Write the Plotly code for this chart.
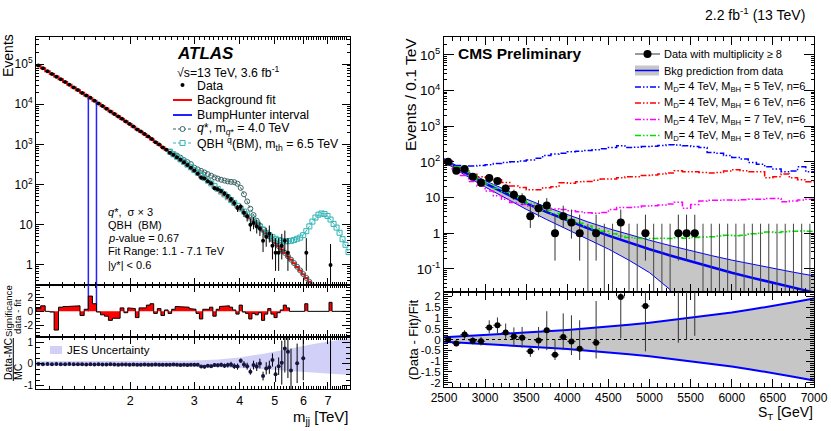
import math
import plotly.graph_objects as go

W, H = 831, 431
FONT = "Liberation Sans, Arial, Helvetica, sans-serif"


def X(p):
    return p / W


def Y(p):
    return 1 - p / H


# ====================== ATLAS (left) ======================
atlas_edges_gev = [
    1100, 1133, 1166, 1200, 1234, 1269, 1305, 1341, 1378, 1416,
    1454, 1493, 1533, 1573, 1614, 1656, 1698, 1741, 1785, 1830,
    1875, 1921, 1968, 2016, 2065, 2114, 2164, 2215, 2267, 2320,
    2374, 2429, 2485, 2542, 2600, 2659, 2719, 2780, 2842, 2905,
    2969, 3034, 3100, 3167, 3235, 3305, 3376, 3448, 3521, 3596,
    3672, 3749, 3827, 3907, 3988, 4070, 4154, 4239, 4326, 4414,
    4504, 4595, 4688, 4782, 4878, 4975, 5074, 5175, 5277, 5381,
    5487, 5595, 5705, 5817, 5931, 6047, 6165, 6285, 6407, 6531,
    6658, 6787, 6918, 7052, 7188, 7326, 7467, 7610, 7756, 7904, 8055]

# background fit (events per bin), bins 1..84
atlas_fit = [
    92000, 78400, 66800, 57100, 48900, 41700, 35700, 30600, 26200, 22500,
    19300, 16600, 14200, 12200, 10500, 9080, 7820, 6740, 5800, 5000,
    4320, 3730, 3210, 2770, 2390, 2070, 1790, 1540, 1330, 1150,
    989, 852, 733, 632, 544, 468, 403, 347, 298, 256,
    220, 189, 162, 139, 119, 102, 87.1, 74.5, 63.6, 54.2,
    46.2, 39.3, 33.4, 28.3, 24.0, 20.4, 17.2, 14.5, 12.2, 10.3,
    8.64, 7.24, 6.06, 5.06, 4.22, 3.51, 2.91, 2.40, 1.99, 1.63,
    1.34, 1.10, 0.893, 0.724, 0.586, 0.472, 0.379, 0.303, 0.240, 0.190,
    0.151, 0.117, 0.091, 0.071]

# data (events per bin), bins 1..84
atlas_data = [
    92121, 78624, 66800, 57076, 48303, 41822, 35832, 30722, 26330, 22620,
    19217, 16639, 14462, 12321, 10490, 9032, 7758, 6633, 5724, 4929,
    4353, 3718, 3238, 2791, 2346, 2093, 1811, 1575, 1370, 1140,
    1002, 834, 738, 624, 551, 483, 417, 358, 308, 262,
    224, 185, 148, 143, 122, 108, 81, 77, 69, 60,
    52, 43, 35, 26, 28, 20, 16, 10, 11, 9,
    8, 4, 5, 6, 3, 2, 2, 3, 4, 2,
    0, 0, 0, 0, 0, 2, 0, 0, 0, 0,
    0, 0, 0, 1]

# significance (data - fit), bins 1..90
atlas_signif = [
    0.4, 0.8, 0.0, -0.1, -2.7, 0.6, 0.7, 0.7, 0.8, 0.8,
    -0.6, 0.3, 2.2, 1.1, -0.1, -0.5, -0.7, -1.3, -1.0, -1.0,
    0.5, -0.2, 0.5, 0.4, -0.9, 0.5, 0.5, 0.9, 1.1, -0.3,
    0.4, -0.6, 0.2, -0.3, 0.3, 0.7, 0.7, 0.6, 0.6, 0.4,
    0.3, -0.3, -1.1, 0.3, 0.3, 0.6, -0.7, 0.3, 0.7, 0.8,
    0.8, 0.6, 0.2, -0.4, 0.9, -0.1, -0.3, -1.1, -0.3, -0.5,
    -0.2, -1.3, -0.4, 0.4, -0.4, -0.9, -0.2, 0.2, 0.9, 0.5,
    0, 0, 0, 0, 0, 1.1, 0, 0, 0, 0,
    0, 0, 0, 1.3, 0, 0, 0, 0, 0, 0]

# q* (sigma x 3) + background, bins 34..79
qstar_first_bin = 34
qstar_counts = [
    650, 565, 525, 468, 407, 363, 324, 263, 240, 219,
    200, 182, 166, 151, 141, 132, 126, 120, 117, 115,
    105, 83, 57.5, 38, 25, 17.4, 12.6, 9.5, 7.6, 6.2,
    5.1, 4.25, 3.53, 2.93, 2.42, 2.0, 1.64, 1.35, 1.11, 0.90,
    0.73, 0.59, 0.475, 0.38, 0.305, 0.242]

# QBH (BM) + background, bins 34..90
qbh_first_bin = 34
qbh_counts = [
    664, 571, 491, 423, 364, 313, 269, 231, 198, 170,
    146, 125, 107, 91.5, 78.2, 66.8, 56.9, 48.5, 41.3, 35.1,
    29.7, 25.2, 21.4, 18.1, 15.2, 12.8, 10.8, 9.07, 7.60, 6.31,
    5.50, 4.90, 4.47, 4.17, 3.98, 3.89, 3.89, 3.98, 4.17, 4.47,
    4.79, 5.50, 6.92, 9.12, 12.0, 15.1, 17.8, 19.1, 18.6, 16.6,
    13.5, 10.5, 8.51, 6.31, 4.37, 3.16, 2.09]

# (Data-MC)/MC, bins 1..84
atlas_dmc = [
    0.0, -0.01, 0.0, -0.01, 0.0, -0.01, -0.01, 0.0, -0.01, -0.01,
    -0.01, -0.02, -0.01, -0.02, -0.01, -0.02, -0.02, -0.01, -0.02, -0.03,
    -0.02, -0.02, -0.03, -0.02, -0.03, -0.03, -0.02, -0.03, -0.03, -0.02,
    -0.03, -0.03, -0.04, -0.03, -0.02, -0.03, -0.05, -0.04, -0.05, -0.03,
    -0.04, -0.03, -0.12, -0.13, -0.08, -0.10, -0.05, -0.06, -0.04, -0.08,
    -0.05, -0.02, -0.10, -0.12, 0.15, -0.02, -0.10, -0.35, -0.05, -0.12,
    0.02, -0.55, -0.20, -0.15, 0.18, -0.47, -0.10, 0.06, 0.71, 0.56,
    -0.30, None, 0.03, None, 0.26, None, None, None, None, None,
    None, None, None, 1.4]
atlas_dmc_err = [
    0.004, 0.004, 0.005, 0.005, 0.005, 0.005, 0.006, 0.006, 0.006, 0.007,
    0.007, 0.008, 0.008, 0.009, 0.009, 0.01, 0.01, 0.011, 0.012, 0.013,
    0.014, 0.015, 0.016, 0.017, 0.018, 0.019, 0.02, 0.022, 0.023, 0.025,
    0.027, 0.03, 0.032, 0.034, 0.036, 0.04, 0.042, 0.045, 0.05, 0.053,
    0.057, 0.06, 0.065, 0.07, 0.075, 0.08, 0.085, 0.09, 0.095, 0.1,
    0.11, 0.12, 0.13, 0.14, 0.1, 0.15, 0.16, 0.14, 0.2, 0.2,
    0.22, 0.2, 0.28, 0.3, 0.3, 0.35, 0.4, 1.0, 1.1, 1.2,
    1.0, 0, 0.9, 0, 1.0, 0, 0, 0, 0, 0,
    0, 0, 0, 3.0]

# JES uncertainty band
jes_mass = [1.1, 2.0, 2.9, 3.5, 4.0, 4.7, 5.5, 6.5, 8.055]
jes_up = [0.12, 0.13, 0.15, 0.20, 0.30, 0.48, 0.70, 0.93, 1.17]
jes_dn = [-0.08, -0.09, -0.12, -0.15, -0.18, -0.24, -0.32, -0.40, -0.50]

bump_lo_gev, bump_hi_gev = 1533, 1614

# Poisson (68%) error table for small counts
poisson_small = {1: (0.83, 2.30), 2: (1.29, 2.64), 3: (1.63, 2.92), 4: (1.91, 3.16),
                 5: (2.16, 3.38), 6: (2.38, 3.58), 8: (2.77, 3.94), 9: (2.94, 4.11),
                 10: (3.11, 4.27), 11: (3.26, 4.42)}

# ====================== CMS (right) ======================
cms_counts = [100, 56, 63, 38, 26, 35, 29, 18, 12, 9,
              3, 5, 6, 1, 3, 2, 1, 0, 1, 0,
              0, 2, 0, 0, 1, 0, 0, 0, 1, 1,
              1, 0, 0, 0, 0, 0, 0, 0, 0, 0,
              0, 0, 0, 0, 0]
cms_err_up = [11.0, 8.5, 9.0, 7.2, 6.1, 6.9, 6.4, 5.3, 4.6, 4.1,
              2.9, 3.4, 3.6, 2.3, 2.9, 2.6, 2.3, 1.84, 2.3, 1.84,
              1.84, 2.6, 1.84, 1.84, 2.3, 1.84, 1.84, 1.84, 2.3, 2.3,
              2.3, 1.84, 1.84, 1.84, 1.84, 1.84, 1.84, 1.84, 1.84, 1.84,
              1.84, 1.84, 1.84, 1.84, 1.84]
cms_err_dn = [10.0, 7.5, 7.9, 6.1, 5.1, 5.9, 5.4, 4.2, 3.5, 2.9,
              1.6, 2.2, 2.4, 0.83, 1.6, 1.3, 0.83, 0, 0.83, 0,
              0, 1.3, 0, 0, 0.83, 0, 0, 0, 0.83, 0.83,
              0.83, 0, 0, 0, 0, 0, 0, 0, 0, 0,
              0, 0, 0, 0, 0]

cms_fit_st = [2500, 2750, 3000, 3250, 3500, 3750, 4000, 4250, 4500, 4750,
              5000, 5250, 5500, 5750, 6000, 6250, 6500, 6750, 7000]
cms_fit = [112, 50.8, 24.7, 12.7, 6.86, 3.87, 2.27, 1.37, 0.852, 0.544,
           0.355, 0.237, 0.161, 0.111, 0.078, 0.0558, 0.0403, 0.0295, 0.0218]
cms_unc = [0.10, 0.15, 0.20, 0.26, 0.32, 0.38, 0.44, 0.51, 0.58, 0.68,
           0.78, 0.89, 1.00, 1.12, 1.25, 1.40, 1.55, 1.72, 1.90]

# signal + background (log10 events / 0.1 TeV), 100 GeV bins 2500-7000
mbh5_log10 = [2.00, 1.90, 1.86, 1.88, 1.90, 1.92, 1.95, 1.98, 2.00, 2.02,
              2.05, 2.10, 2.18, 2.22, 2.24, 2.28, 2.30, 2.32, 2.34, 2.37,
              2.40, 2.45, 2.40, 2.41, 2.43, 2.44, 2.46, 2.48, 2.47, 2.45,
              2.43, 2.40, 2.26, 2.24, 2.18, 2.12, 2.08, 1.98, 1.93, 1.86,
              1.80, 1.72, 1.74, 1.86, 1.72]
mbh6_log10 = [2.02, 1.85, 1.75, 1.65, 1.58, 1.52, 1.50, 1.42, 1.32, 1.28,
              1.22, 1.22, 1.27, 1.30, 1.41, 1.40, 1.44, 1.45, 1.48, 1.52,
              1.52, 1.55, 1.58, 1.58, 1.62, 1.63, 1.66, 1.69, 1.75, 1.72,
              1.72, 1.70, 1.69, 1.70, 1.74, 1.78, 1.75, 1.72, 1.72, 1.55,
              1.58, 1.66, 1.55, 1.50, 1.44]
mbh7_log10 = [2.02, 1.80, 1.62, 1.45, 1.32, 1.18, 1.05, 0.95, 0.86, 0.80,
              0.76, 0.72, 0.70, 0.68, 0.66, 0.63, 0.60, 0.57, 0.56, 0.58,
              0.66, 0.72, 0.72, 0.73, 0.76, 0.77, 0.79, 0.82, 0.87, 0.70,
              0.80, 0.90, 0.92, 0.92, 0.93, 0.92, 0.94, 0.95, 0.95, 0.97,
              0.97, 0.88, 0.90, 0.93, 0.95]
mbh8_log10 = [2.00, 1.86, 1.74, 1.62, 1.50, 1.38, 1.26, 1.15, 1.04, 0.93,
              0.83, 0.73, 0.64, 0.55, 0.46, 0.37, 0.28, 0.20, 0.12, 0.05,
              -0.02, -0.08, -0.12, -0.14, -0.15, -0.15, -0.14, -0.15, -0.13, -0.14,
              -0.12, -0.11, -0.10, -0.08, -0.06, -0.07, -0.06, -0.02, 0.00, 0.03,
              0.02, 0.04, 0.05, 0.06, 0.05]

# (Data - Fit)/Fit
cms_ratio = [0.0, -0.18, 0.23, -0.06, -0.08, 0.55, 0.66, 0.32, 0.14, 0.08,
             -0.54, -0.05, 0.43, -0.71, 0.11, -0.09, -0.43, None, -0.15, None,
             None, 1.97, None, None, 1.55, None, None, None, 3.9, 4.2,
             4.6]
cms_ratio_up = [0.1, 0.13, 0.2, 0.17, 0.2, 0.34, 0.36, 0.42, 0.42, 0.5,
                0.2, 0.63, 0.88, 0.71, 1.1, 1.21, 1.32, 0, 1.93, 0,
                0, 6.9, 0, 0, 5.9, 0, 0, 0, 10, 10,
                10]
cms_ratio_dn = [0.1, 0.13, 0.2, 0.17, 0.2, 0.27, 0.38, 0.32, 0.42, 0.46,
                0.26, 0.44, 0.92, 0.24, 0.6, 0.63, 0.52, 0, 0.73, 0,
                0, 1.92, 0, 0, 2.1, 0, 0, 0, 4.05, 4.2,
                4.43]

# ==========================================================
fig = go.Figure()

edges = [e / 1000 for e in atlas_edges_gev]
centers = [(edges[i] + edges[i + 1]) / 2 for i in range(len(edges) - 1)]


def steps(ed, vals):
    xs, ys = [], []
    for i, v in enumerate(vals):
        xs += [ed[i], ed[i + 1]]
        ys += [v, v]
    return xs, ys


# --- ATLAS main panel ---
fx, fy = steps(edges, atlas_fit)
fig.add_trace(go.Scatter(x=fx, y=fy, mode='lines', line=dict(color='#ff0000', width=2),
                         xaxis='x', yaxis='y', hoverinfo='skip'))

qs_x = centers[qstar_first_bin - 1: qstar_first_bin - 1 + len(qstar_counts)]
fig.add_trace(go.Scatter(x=qs_x, y=qstar_counts, mode='lines+markers',
                         line=dict(color='#3b6363', width=1, dash='3px,2px'),
                         marker=dict(symbol='circle-open', size=5, color='#3b6363', line=dict(width=1)),
                         xaxis='x', yaxis='y'))
qb_x = centers[qbh_first_bin - 1: qbh_first_bin - 1 + len(qbh_counts)]
fig.add_trace(go.Scatter(x=qb_x, y=qbh_counts, mode='lines+markers',
                         line=dict(color='#33b5b5', width=1, dash='3px,2px'),
                         marker=dict(symbol='square-open', size=5, color='#33b5b5', line=dict(width=1)),
                         xaxis='x', yaxis='y'))

i_lo = atlas_edges_gev.index(bump_lo_gev)
i_hi = atlas_edges_gev.index(bump_hi_gev)
for xv, top in [(bump_lo_gev / 1000, atlas_data[i_lo]), (bump_hi_gev / 1000, atlas_data[i_hi - 1])]:
    fig.add_trace(go.Scatter(x=[xv, xv], y=[1e-3, top], mode='lines',
                             line=dict(color='#2222ff', width=1.5), xaxis='x', yaxis='y'))
    fig.add_trace(go.Scatter(x=[xv, xv], y=[0, 10], mode='lines',
                             line=dict(color='#2222ff', width=1.5), xaxis='x2', yaxis='y2'))

d_x, d_y, d_up, d_dn = [], [], [], []
for i, n in enumerate(atlas_data):
    if n <= 0:
        continue
    d_x.append(centers[i])
    d_y.append(n)
    if n in poisson_small:
        dn, up = poisson_small[n]
    else:
        dn = up = n ** 0.5
    d_up.append(up)
    d_dn.append(dn)
fig.add_trace(go.Scatter(x=d_x, y=d_y, mode='markers',
                         marker=dict(color='black', size=4),
                         error_y=dict(type='data', array=d_up, arrayminus=d_dn, symmetric=False,
                                      width=0, thickness=1, color='black'),
                         xaxis='x', yaxis='y'))

# --- ATLAS significance panel ---
sx, sy = steps(edges, atlas_signif)
fig.add_trace(go.Scatter(x=[edges[0]] + sx + [edges[-1]], y=[0] + sy + [0], mode='lines',
                         fill='tozeroy', fillcolor='#ff0000',
                         line=dict(color='black', width=1), xaxis='x2', yaxis='y2'))

# --- ATLAS (Data-MC)/MC panel ---
fig.add_trace(go.Scatter(x=jes_mass, y=jes_up, mode='lines', line=dict(width=0),
                         xaxis='x3', yaxis='y3', hoverinfo='skip'))
fig.add_trace(go.Scatter(x=jes_mass, y=jes_dn, mode='lines', line=dict(width=0),
                         fill='tonexty', fillcolor='rgba(150,150,240,0.45)',
                         xaxis='x3', yaxis='y3', hoverinfo='skip'))
r_x = [centers[i] for i in range(len(atlas_dmc)) if atlas_dmc[i] is not None]
r_y = [v for v in atlas_dmc if v is not None]
r_e = [atlas_dmc_err[i] for i in range(len(atlas_dmc)) if atlas_dmc[i] is not None]
fig.add_trace(go.Scatter(x=r_x, y=r_y, mode='markers',
                         marker=dict(color='#15153f', size=4),
                         error_y=dict(type='data', array=r_e, width=0, thickness=1, color='black'),
                         xaxis='x3', yaxis='y3'))

# --- CMS main panel ---
cms_edges = [2500 + 100 * i for i in range(len(cms_counts) + 1)]
cms_x = [2550 + 100 * i for i in range(len(cms_counts))]
band_up = [f * (1 + u) for f, u in zip(cms_fit, cms_unc)]
band_dn = [max(f * (1 - u), 1e-4) for f, u in zip(cms_fit, cms_unc)]
fig.add_trace(go.Scatter(x=cms_fit_st, y=band_up, mode='lines', line=dict(color='#0000ff', width=1),
                         xaxis='x4', yaxis='y4'))
fig.add_trace(go.Scatter(x=cms_fit_st, y=band_dn, mode='lines', line=dict(color='#0000ff', width=1),
                         fill='tonexty', fillcolor='#c6c6c6', xaxis='x4', yaxis='y4'))
fig.add_trace(go.Scatter(x=cms_fit_st, y=cms_fit, mode='lines', line=dict(color='#0000ff', width=2.5),
                         xaxis='x4', yaxis='y4'))

DASHDOT = '6px,2px,1.5px,2px,1.5px,2px'
for vals, col in [(mbh5_log10, '#0000ff'), (mbh6_log10, '#ff0000'),
                  (mbh7_log10, '#ff00ff'), (mbh8_log10, '#00e000')]:
    yv = [10 ** v for v in vals]
    fig.add_trace(go.Scatter(x=cms_edges, y=yv + [yv[-1]], mode='lines', line_shape='hv',
                             line=dict(color=col, width=1.5, dash=DASHDOT),
                             xaxis='x4', yaxis='y4'))

zx, zy = [], []
for i, n in enumerate(cms_counts):
    if n == 0:
        zx += [cms_x[i], cms_x[i], None]
        zy += [1e-3, cms_err_up[i], None]
fig.add_trace(go.Scatter(x=zx, y=zy, mode='lines', line=dict(color='#444444', width=1),
                         xaxis='x4', yaxis='y4'))
nz = [i for i, n in enumerate(cms_counts) if n > 0]
fig.add_trace(go.Scatter(x=[cms_x[i] for i in nz], y=[cms_counts[i] for i in nz], mode='markers',
                         marker=dict(color='black', size=8),
                         error_y=dict(type='data', array=[cms_err_up[i] for i in nz],
                                      arrayminus=[cms_err_dn[i] for i in nz], symmetric=False,
                                      width=0, thickness=1, color='#333333'),
                         error_x=dict(type='constant', value=50, width=0, thickness=1, color='#333333'),
                         xaxis='x4', yaxis='y4'))

# --- CMS ratio panel ---
fig.add_trace(go.Scatter(x=cms_fit_st, y=cms_unc, mode='lines', line=dict(color='#0000ff', width=2),
                         xaxis='x5', yaxis='y5'))
fig.add_trace(go.Scatter(x=cms_fit_st, y=[-u for u in cms_unc], mode='lines',
                         line=dict(color='#0000ff', width=2), fill='tonexty', fillcolor='#c6c6c6',
                         xaxis='x5', yaxis='y5'))
fig.add_trace(go.Scatter(x=[2500, 7000], y=[0, 0], mode='lines',
                         line=dict(color='black', width=1, dash='dot'), xaxis='x5', yaxis='y5'))
rr = [i for i, v in enumerate(cms_ratio) if v is not None]
fig.add_trace(go.Scatter(x=[cms_x[i] for i in rr], y=[cms_ratio[i] for i in rr], mode='markers',
                         marker=dict(color='black', size=6),
                         error_y=dict(type='data', array=[cms_ratio_up[i] for i in rr],
                                      arrayminus=[cms_ratio_dn[i] for i in rr], symmetric=False,
                                      width=0, thickness=1, color='#333333'),
                         error_x=dict(type='constant', value=50, width=0, thickness=1, color='#333333'),
                         xaxis='x5', yaxis='y5'))


# ==================== axes ====================
def axis(**kw):
    d = dict(showline=True, linecolor='black', linewidth=1, mirror='ticks', ticks='inside',
             ticklen=6, tickwidth=1, tickcolor='black', showgrid=False, zeroline=False,
             automargin=False,
             tickfont=dict(family=FONT, size=12, color='black'))
    d.update(kw)
    return d


lx_range = [math.log10(edges[0]), math.log10(edges[-1])]
lx_minor = [k / 10 for k in range(11, 81) if k % 10 != 0]
lx_major = [2, 3, 4, 5, 6, 7]
log_minor = [k * 10 ** d for d in range(-2, 6) for k in range(2, 10)]
minor_log = dict(ticks='inside', ticklen=3, tickcolor='black', tickvals=log_minor)

LXD = [X(36), X(350)]
RXD = [X(444), X(814)]

layout_axes = dict(
    xaxis=axis(domain=LXD, type='log', range=lx_range, anchor='y', tickvals=lx_major,
               showticklabels=False, ticklen=7,
               minor=dict(ticks='inside', ticklen=3, tickcolor='black', tickvals=lx_minor)),
    yaxis=axis(domain=[Y(285), Y(37)], type='log', range=[-0.5, 5.675], anchor='x',
               tickvals=[1, 10, 1e2, 1e3, 1e4, 1e5],
               ticktext=['1', '10', '10<sup>2</sup>', '10<sup>3</sup>', '10<sup>4</sup>', '10<sup>5</sup>'],
               tickfont=dict(family=FONT, size=12, color='black'), ticklen=8, minor=minor_log),
    xaxis2=axis(domain=LXD, type='log', range=lx_range, anchor='y2', tickvals=lx_major,
                showticklabels=False, ticklen=7,
                minor=dict(ticks='inside', ticklen=3, tickcolor='black', tickvals=lx_minor)),
    yaxis2=axis(domain=[Y(337), Y(285)], range=[-3.7, 3.8], anchor='x2',
                tickvals=[-2, 0, 2], ticktext=['-2', '0', '2'], ticklen=8,
                tickfont=dict(family=FONT, size=10, color='black'),
                minor=dict(ticks='inside', ticklen=4, tickcolor='black',
                           tickvals=[-3.5, -3, -2.5, -1.5, -1, -0.5, 0.5, 1, 1.5, 2.5, 3, 3.5])),
    xaxis3=axis(domain=LXD, type='log', range=lx_range, anchor='y3', tickvals=lx_major,
                ticktext=[str(v) for v in lx_major], ticklen=7,
                tickfont=dict(family=FONT, size=12.5, color='black'),
                minor=dict(ticks='inside', ticklen=3, tickcolor='black', tickvals=lx_minor)),
    yaxis3=axis(domain=[Y(389), Y(337)], range=[-1.14, 1.23], anchor='x3',
                tickvals=[-1, 0, 1], ticktext=['-1', '0', '1'], ticklen=8,
                tickfont=dict(family=FONT, size=10, color='black'),
                minor=dict(ticks='inside', ticklen=4, tickcolor='black',
                           tickvals=[-0.75, -0.5, -0.25, 0.25, 0.5, 0.75])),
    xaxis4=axis(domain=RXD, range=[2500, 7000], anchor='y4',
                tickvals=list(range(2500, 7001, 500)), showticklabels=False, ticklen=8,
                minor=dict(ticks='inside', ticklen=4, tickcolor='black', dtick=100)),
    yaxis4=axis(domain=[Y(292), Y(37)], type='log', range=[-1.65, 5.5], anchor='x4',
                tickvals=[0.1, 1, 10, 1e2, 1e3, 1e4, 1e5],
                ticktext=['10<sup>-1</sup>', '1', '10', '10<sup>2</sup>', '10<sup>3</sup>',
                          '10<sup>4</sup>', '10<sup>5</sup>'],
                tickfont=dict(family=FONT, size=13.5, color='black'), ticklen=10, minor=minor_log),
    xaxis5=axis(domain=RXD, range=[2500, 7000], anchor='y5',
                tickvals=list(range(2500, 7001, 500)),
                ticktext=[str(v) for v in range(2500, 7001, 500)], ticklen=8,
                tickfont=dict(family=FONT, size=12, color='black'),
                minor=dict(ticks='inside', ticklen=4, tickcolor='black', dtick=100)),
    yaxis5=axis(domain=[Y(387), Y(292)], range=[-2.2, 2.2], anchor='x5',
                tickvals=[-2, -1.5, -1, -0.5, 0, 0.5, 1, 1.5, 2],
                ticktext=['-2', '-1.5', '-1', '-0.5', '0', '0.5', '1', '1.5', '2'], ticklen=8,
                tickfont=dict(family=FONT, size=11.5, color='black'),
                minor=dict(ticks='inside', ticklen=4, tickcolor='black', dtick=0.1)),
)

# ==================== texts & legends ====================
ann, shp = [], []


def txt(x, y, s, size=12, xa='left', ya='middle', angle=0, bold=False):
    if bold:
        s = '<b>' + s + '</b>'
    ann.append(dict(x=X(x), y=Y(y), xref='paper', yref='paper', text=s, showarrow=False,
                    xanchor=xa, yanchor=ya, textangle=angle, borderpad=0,
                    font=dict(family=FONT, size=size, color='black')))


def hline(x0, x1, y, color, width=1.5, dash='solid'):
    shp.append(dict(type='line', xref='paper', yref='paper', x0=X(x0), x1=X(x1), y0=Y(y), y1=Y(y),
                    line=dict(color=color, width=width, dash=dash)))


# ATLAS labels
txt(176, 53, '<b><i>ATLAS</i></b>', size=17)
txt(176, 72, '√s=13 TeV, 3.6 fb<sup>-1</sup>', size=12.3)
txt(196, 86, 'Data', size=12.3)
txt(196, 100, 'Background fit', size=12.3)
txt(196, 115, 'BumpHunter interval', size=12.3)
txt(196, 129, '<i>q</i>*, m<sub><i>q</i>*</sub> = 4.0 TeV', size=12.3)
txt(196, 144, 'QBH <sup>q</sup>(BM), m<sub>th</sub> = 6.5 TeV', size=12.3)
shp.append(dict(type='circle', xref='paper', yref='paper', x0=X(180.5), x1=X(184.5),
                y0=Y(87), y1=Y(83), fillcolor='black', line=dict(color='black', width=0)))
hline(173, 192, 100, '#ff0000', 2)
hline(173, 192, 115, '#2222ff', 2)
hline(173, 192, 129, '#3b6363', 1, '3px,2px')
hline(173, 192, 143, '#33b5b5', 1, '3px,2px')
shp.append(dict(type='circle', xref='paper', yref='paper', x0=X(180), x1=X(185),
                y0=Y(131.5), y1=Y(126.5), fillcolor='white', line=dict(color='#3b6363', width=1)))
shp.append(dict(type='rect', xref='paper', yref='paper', x0=X(180), x1=X(185),
                y0=Y(145.5), y1=Y(140.5), fillcolor='white', line=dict(color='#33b5b5', width=1)))

txt(107, 212, '<i>q</i>*,  σ × 3', size=11)
txt(107, 225, 'QBH  (BM)', size=11)
txt(107, 238, '<i>p</i>-value = 0.67', size=11)
txt(107, 251, 'Fit Range: 1.1 - 7.1 TeV', size=11)
txt(107, 265, '|y*| < 0.6', size=11)

txt(8, 56, 'Events', size=14, xa='center', ya='middle', angle=-90)
txt(8, 311, 'Significance', size=9.6, xa='center', ya='middle', angle=-90)
txt(17, 317, 'data - fit', size=9.6, xa='center', ya='middle', angle=-90)
txt(8, 359, 'Data-MC', size=10.5, xa='center', ya='middle', angle=-90)
txt(18, 372, 'MC', size=10.5, xa='center', ya='middle', angle=-90)
shp.append(dict(type='line', xref='paper', yref='paper', x0=X(13.3), x1=X(13.3), y0=Y(338), y1=Y(381),
                line=dict(color='black', width=1)))
shp.append(dict(type='rect', xref='paper', yref='paper', x0=X(50), x1=X(62), y0=Y(354), y1=Y(346),
                fillcolor='rgba(150,150,240,0.45)', line=dict(width=0)))
txt(66, 350, 'JES Uncertainty', size=11.5)
txt(350, 417, 'm<sub>jj</sub> [TeV]', size=15, xa='right')

# CMS labels
txt(806, 14, '2.2 fb<sup>-1</sup> (13 TeV)', size=14, xa='right')
txt(457, 53, 'CMS Preliminary', size=15.5, bold=True)
txt(410, 95, 'Events / 0.1 TeV', size=15.5, xa='center', ya='middle', angle=-90)
txt(413, 340, '(Data - Fit)/Fit', size=13, xa='center', ya='middle', angle=-90)
txt(814, 413, 'S<sub>T</sub> [GeV]', size=14, xa='right')

leg_rows = [54, 70.5, 87, 103, 119.5, 135.5]
txt(663, leg_rows[0], 'Data with multiplicity ≥ 8', size=11)
txt(663, leg_rows[1], 'Bkg prediction from data', size=11)
txt(663, leg_rows[2], 'M<sub>D</sub>= 4 TeV, M<sub>BH</sub> = 5 TeV, n=6', size=11)
txt(663, leg_rows[3], 'M<sub>D</sub>= 4 TeV, M<sub>BH</sub> = 6 TeV, n=6', size=11)
txt(663, leg_rows[4], 'M<sub>D</sub>= 4 TeV, M<sub>BH</sub> = 7 TeV, n=6', size=11)
txt(663, leg_rows[5], 'M<sub>D</sub>= 4 TeV, M<sub>BH</sub> = 8 TeV, n=6', size=11)
hline(635, 660, leg_rows[0], '#333333', 1)
shp.append(dict(type='circle', xref='paper', yref='paper', x0=X(643.5), x1=X(651.5),
                y0=Y(leg_rows[0] + 4), y1=Y(leg_rows[0] - 4), fillcolor='black', line=dict(width=0)))
shp.append(dict(type='rect', xref='paper', yref='paper', x0=X(635), x1=X(659),
                y0=Y(leg_rows[1] + 5), y1=Y(leg_rows[1] - 5), fillcolor='#c6c6c6', line=dict(width=0)))
hline(635, 659, leg_rows[1], '#0000ff', 1.5)
for yy, col in zip(leg_rows[2:], ['#0000ff', '#ff0000', '#ff00ff', '#00e000']):
    hline(635, 660, yy, col, 1.5, DASHDOT)

fig.update_layout(
    template='none',
    width=W, height=H, margin=dict(l=0, r=0, t=0, b=0, autoexpand=False),
    plot_bgcolor='white', paper_bgcolor='white', showlegend=False,
    hovermode=False,
    font=dict(family=FONT, color='black'),
    annotations=ann, shapes=shp, **layout_axes)

fig.write_html("out.html",
               config={'displayModeBar': False, 'staticPlot': True},
               post_script="document.body.style.margin='0px';document.body.style.padding='0px';"
                           "document.body.style.overflow='hidden';")
